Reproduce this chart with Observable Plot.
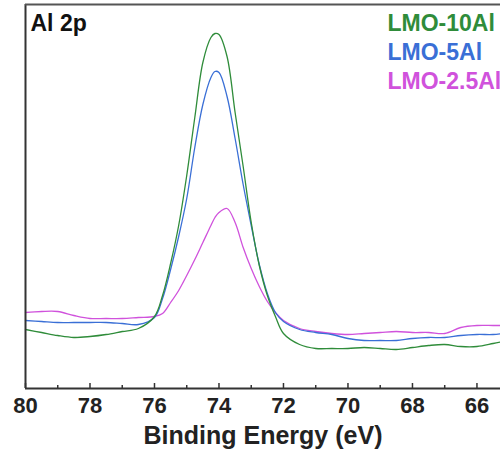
<!DOCTYPE html>
<html><head><meta charset="utf-8">
<script src="https://cdn.jsdelivr.net/npm/d3@7"></script>
<script src="https://cdn.jsdelivr.net/npm/@observablehq/plot@0.6"></script>
<style>
html,body{margin:0;padding:0;background:#fff;}
#chart svg{display:block;}
</style></head><body><div id="chart"></div>
<script>
// Binding energy (eV)
const energy = [80, 79.5, 79, 78.5, 78, 77.5, 77, 76.5, 76, 75.75, 75.5, 75.25, 75, 74.75, 74.5, 74.25, 74.125, 74, 73.75, 73.5, 73.25, 73, 72.75, 72.5, 72.25, 72, 71.5, 71, 70.5, 70, 69.5, 69, 68.5, 68, 67.5, 67, 66.5, 66, 65.5, 65.2];
// Intensity (a.u.)
const lmo10Al = [59, 56, 53, 51, 52, 54, 57, 60, 72, 93, 125, 163, 213, 271, 326, 351, 355, 354, 332, 276, 222, 166, 123, 93, 72, 55, 44, 40, 40, 40, 41, 40, 39, 41, 43, 44, 42, 42, 45, 47];
const lmo5Al  = [68, 67, 66, 66, 66, 66, 65, 64, 71, 90, 119, 152, 190, 241, 284, 311, 317, 316, 292, 250, 204, 163, 124, 95, 76, 67, 59, 56, 54, 50, 48, 48, 48, 50, 51, 51, 53, 54, 54, 55];
const lmo25Al = [76, 77, 77, 73, 70, 70, 70, 71, 72, 75, 86, 98, 113, 129, 146, 163, 171, 176, 180, 166, 141, 120, 102, 87, 76, 68, 60, 57, 55, 54, 55, 56, 57, 56, 56, 55, 61, 63, 63, 63];

const seriesNames = ["LMO-10Al", "LMO-5Al", "LMO-2.5Al"];
const seriesColors = ["#2f8c3a", "#3a6fd6", "#d052dc"];
const majorTicks = [80, 78, 76, 74, 72, 70, 68, 66];
const minorTicks = [79, 77, 75, 73, 71, 69, 67];
const panelLabel = "Al 2p";
const xLabel = "Binding Energy (eV)";

const seriesValues = [lmo10Al, lmo5Al, lmo25Al];
const rows = seriesValues.flatMap((vals, i) =>
  vals.map((v, j) => ({energy: energy[j], intensity: v, series: seriesNames[i]})));

const font = "'Liberation Sans', Arial, sans-serif";
const axisColor = "#333";

const marks = [];
[2, 1, 0].forEach(i => {
  marks.push(Plot.line(rows.filter(d => d.series === seriesNames[i]), {
    x: "energy", y: "intensity", stroke: seriesColors[i], strokeWidth: 1.3, curve: "catmull-rom"
  }));
});
// frame (left, top, bottom)
marks.push(Plot.ruleX([80], {stroke: axisColor, strokeWidth: 2}));
marks.push(Plot.ruleY([384], {stroke: "#555", strokeWidth: 2}));
marks.push(Plot.ruleY([0], {stroke: axisColor, strokeWidth: 2}));
// inward ticks
marks.push(Plot.ruleX(majorTicks, {y1: 0, y2: 5, stroke: axisColor, strokeWidth: 1.5}));
marks.push(Plot.ruleX(minorTicks, {y1: 0, y2: 3, stroke: axisColor, strokeWidth: 1.5}));
// tick labels
marks.push(Plot.axisX(majorTicks, {tickSize: 0, tickPadding: 9, fontSize: 22, fontWeight: "bold", fill: "#222", label: null, tickFormat: d => String(d)}));
// axis title
marks.push(Plot.text([xLabel], {frameAnchor: "bottom", dy: 55, lineAnchor: "bottom", fontSize: 25, fontWeight: "bold", fill: "#222"}));
// panel label
marks.push(Plot.text([panelLabel], {frameAnchor: "top-left", dx: 5, dy: 10, lineAnchor: "top", textAnchor: "start", fontSize: 23, fontWeight: "bold", fill: "#111"}));
// legend
seriesNames.forEach((name, i) => {
  marks.push(Plot.text([name], {frameAnchor: "top-left", dx: 362, dy: 10 + i * 29, lineAnchor: "top", textAnchor: "start", fontSize: 23, fontWeight: "bold", fill: seriesColors[i]}));
});

const chart = Plot.plot({
  width: 500,
  height: 452,
  marginTop: 4,
  marginBottom: 64,
  marginLeft: 25,
  marginRight: 0,
  x: {domain: [80, 65.27], axis: null},
  y: {domain: [0, 384], axis: null},
  style: {fontFamily: font, background: "#fff"},
  marks
});
document.getElementById("chart").appendChild(chart);
</script></body></html>
